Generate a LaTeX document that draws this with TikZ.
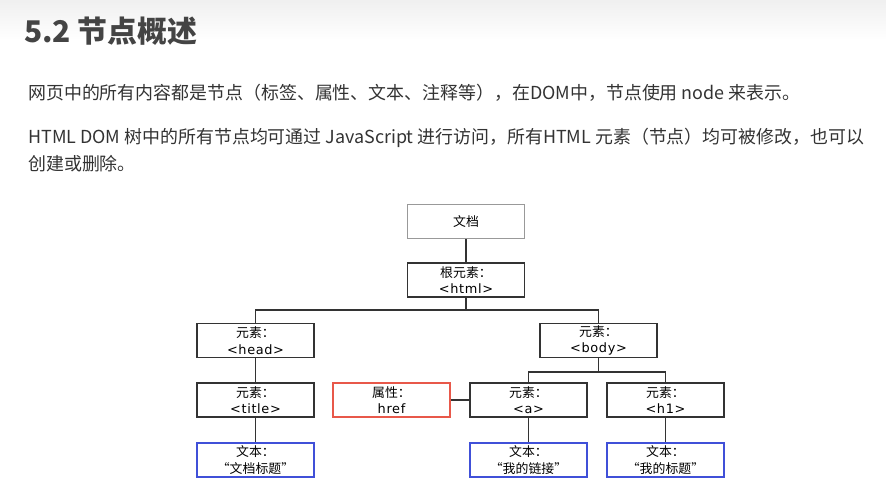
\documentclass[tikz,border=0pt]{standalone}
\usepackage{fontspec}
\setmainfont{Noto Sans CJK SC}
\newfontfamily\boxlatin[LetterSpace=5]{DejaVu Sans}
\usepackage{xcolor}
\usetikzlibrary{positioning,calc}

\definecolor{linegray}{HTML}{333333}
\definecolor{docgray}{HTML}{999999}
\definecolor{attred}{HTML}{E8584A}
\definecolor{txtblue}{HTML}{4050D8}
\definecolor{titlegray}{HTML}{444444}
\definecolor{bodygray}{HTML}{333333}

\begin{document}
\begin{tikzpicture}[
  x=0.03cm, y=-0.03cm,
  box/.style={rectangle,draw=linegray,line width=1.1pt,fill=white,
    minimum width=3.51cm,minimum height=1.02cm,inner sep=1pt,align=center,
    font=\fontsize{11}{14}\selectfont},
  docbox/.style={box,draw=docgray,line width=1.3pt},
  attbox/.style={box,draw=attred},
  txtbox/.style={box,draw=txtblue},
  link/.style={draw=linegray,line width=1.1pt},
  para/.style={anchor=base west,inner sep=0pt,text=bodygray,font=\fontsize{15.3}{23}\selectfont}
]
\useasboundingbox (0,0) rectangle (886,494);
\fill[white] (0,0) rectangle (886,494);
\shade[top color=black!6,bottom color=white] (0,0) rectangle (886,40);

% Heading and paragraphs
\node[anchor=base west,inner sep=0pt,text=titlegray,font=\fontsize{25.5}{30}\selectfont\bfseries] (head) at (24,42) {5.2 节点概述};
\node[para] (para1) at (28,99)
  {网页中的所有内容都是节点（标签、属性、文本、注释等），在DOM中，节点使用 node 来表示。};
\node[para] (para2) at (28,143)
  {HTML DOM 树中的所有节点均可通过 JavaScript 进行访问，所有HTML 元素（节点）均可被修改，也可以};
\node[para] (para3) at (28,170) {创建或删除。};

% Nodes
\node[docbox] (doc) at (466,221.5) {文档};
\node[box] (html) at (466,280) {根元素：\\{\boxlatin <html>}};
\node[box] (headel) at (255.5,340.5) {元素：\\{\boxlatin <head>}};
\node[box] (body) at (598.5,340.5) {元素：\\{\boxlatin <body>}};
\node[box] (title) at (255.5,400) {元素：\\{\boxlatin <title>}};
\node[attbox] (href) at (391.5,400) {属性：\\{\boxlatin href}};
\node[box] (a) at (528.5,400) {元素：\\{\boxlatin <a>}};
\node[box] (h1) at (665.5,400) {元素：\\{\boxlatin <h1>}};
\node[txtbox] (ttitle) at (255.5,460) {文本：\\“文档标题”};
\node[txtbox] (ta) at (528.5,460) {文本：\\“我的链接”};
\node[txtbox] (th1) at (665.5,460) {文本：\\“我的标题”};

% Bus points
\coordinate (hbus) at (466,310);
\coordinate (bbus) at (598.5,372);

% Tree links
\draw[link] (doc) -- (html);
\draw[link] (html.south) -- (hbus) -| (headel.north);
\draw[link] (hbus) -| (body.north);
\draw[link] (headel) -- (title);
\draw[link] (title) -- (ttitle);
\draw[link] (body.south) -- (bbus) -| (a.north);
\draw[link] (bbus) -| (h1.north);
\draw[link] (href) -- (a);
\draw[link] (a) -- (ta);
\draw[link] (h1) -- (th1);
\end{tikzpicture}
\end{document}
